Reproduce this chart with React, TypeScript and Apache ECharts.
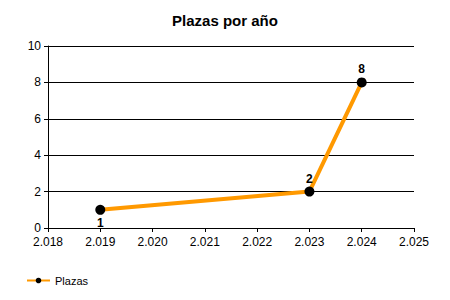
import React, { useEffect, useRef } from "react";
import * as echarts from "echarts";

const years = [2019, 2023, 2024];
const plazas = [1, 2, 8];
const seriesName = "Plazas";
const titleText = "Plazas por año";

export default function App() {
  const ref = useRef<HTMLDivElement>(null);
  useEffect(() => {
    const chart = echarts.init(ref.current!, null, { renderer: "svg" });
    const font = "Liberation Sans, Arial, sans-serif";
    chart.setOption({
      animation: false,
      title: {
        text: titleText,
        left: "center",
        top: 8,
        textStyle: { fontSize: 15, fontWeight: "bold", color: "#000", fontFamily: font },
      },
      legend: {
        left: 21,
        top: 270,
        itemWidth: 23,
        itemHeight: 7,
        itemGap: 6,
        textStyle: { fontSize: 11, color: "#000", fontFamily: font },
        data: [seriesName],
      },
      grid: { left: 48, right: 36, top: 46, bottom: 72 },
      xAxis: {
        type: "value",
        min: 2018,
        max: 2025,
        interval: 1,
        axisLine: { lineStyle: { color: "#000" } },
        axisTick: { show: true, length: 4, lineStyle: { color: "#000" } },
        splitLine: { show: false },
        axisLabel: {
          color: "#000",
          fontSize: 12,
          fontFamily: font,
          margin: 8,
          formatter: (v: number) => {
            const s = String(Math.round(v));
            return s.slice(0, 1) + "." + s.slice(1);
          },
        },
      },
      yAxis: {
        type: "value",
        min: 0,
        max: 10,
        interval: 2,
        axisLine: { show: true, lineStyle: { color: "#000" } },
        axisTick: { show: true, length: 4, lineStyle: { color: "#000" } },
        splitLine: { show: true, lineStyle: { color: "#000", width: 1 } },
        axisLabel: { color: "#000", fontSize: 12, fontFamily: font, margin: 7 },
      },
      series: [
        {
          name: seriesName,
          type: "line",
          data: years.map((y, i) => ({
            value: [y, plazas[i]],
            label: { position: i === 0 ? "bottom" : "top" },
          })),
          lineStyle: { color: "#FF9900", width: 4 },
          itemStyle: { color: "#000" },
          symbol: "circle",
          symbolSize: 10,
          label: {
            show: true,
            color: "#000",
            fontWeight: "bold",
            fontSize: 12,
            fontFamily: font,
            distance: 2,
            formatter: (p: any) => String(p.value[1]),
          },
        },
      ],
    });
    return () => chart.dispose();
  }, []);
  return <div ref={ref} style={{ width: 450, height: 300, margin: -8 }} />;
}
